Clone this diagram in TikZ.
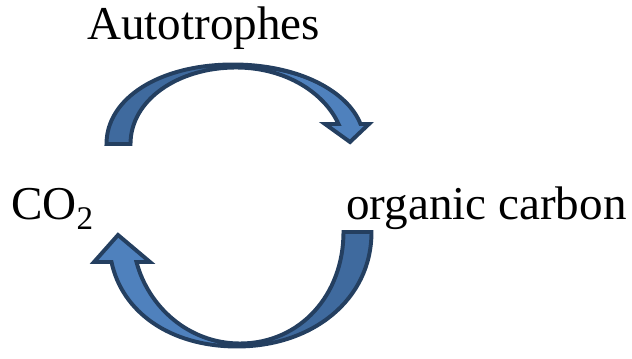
\documentclass[tikz,border=0pt]{standalone}
\usepackage{fontspec}
\setmainfont{Liberation Serif}
\usepackage{tikz}
\definecolor{arrowlight}{HTML}{4F81BD}
\definecolor{arrowdark}{HTML}{3F6A9E}
\definecolor{arrowedge}{HTML}{243F60}

% Outlines of the two curved block arrows (pixel units of the picture)
\newcommand{\toparrowpath}{(106.5,144) .. controls (106.5,98) and (160,64.5) .. (233,64.5)
    .. controls (300,64.5) and (348,92) .. (360.5,124) -- (369,124) -- (350,142) -- (325,124)
    -- (338.5,124) .. controls (325,94) and (287,67.5) .. (236,67.5)
    .. controls (178,67.5) and (130.5,100) .. (130.5,144) -- cycle}
\newcommand{\botarrowpath}{(343.5,232) -- (371.5,232) .. controls (371.5,300) and (312,346.5) .. (237,346.5)
    .. controls (170,346.5) and (122,312) .. (111.5,262) -- (94,262) -- (118,235) -- (150,262)
    -- (136.5,262) .. controls (148,306) and (188,343.5) .. (240,343.5)
    .. controls (300,343.5) and (343.5,295) .. (343.5,232) -- cycle}

\begin{document}
\begin{tikzpicture}[
        x=0.025cm, y=-0.025cm,
        label_style/.style={font=\fontsize{33.5}{40}\selectfont, inner sep=0pt, anchor=base west},
        arrow_edge/.style={draw=arrowedge, line width=2.8pt, line join=miter},
        divide_line/.style={draw=arrowedge, line width=1.1pt}
    ]
    \useasboundingbox (0,0) rectangle (632,359);

    % =========================================================================
    % 1. LABELS
    % =========================================================================
    \node[label_style] (autotrophes) at (87,40) {Autotrophes};
    \node[label_style] (co2) at (11,220) {CO\raisebox{-7pt}{\fontsize{23.5}{24}\selectfont 2}};
    \node[label_style] (orgcarbon) at (346,220) {organic carbon};

    % =========================================================================
    % 2. UPPER ARROW (CO2 -> organic carbon)
    % =========================================================================
    \begin{scope}
        \clip \toparrowpath;
        \fill[arrowlight] \toparrowpath;
        % Darker back part on the tail side
        \fill[arrowdark] (139,113.5) .. controls (165,85) and (200,71) .. (236,67)
            .. controls (280,66) and (325,80) .. (349,105.5) -- (400,105.5) -- (400,0)
            -- (0,0) -- (0,170) -- (139,170) -- cycle;
        \draw[divide_line] (139,113.5) .. controls (165,85) and (200,71) .. (236,67)
            .. controls (280,66) and (325,80) .. (349,105.5);
    \end{scope}
    \draw[arrow_edge] \toparrowpath;

    % =========================================================================
    % 3. LOWER ARROW (organic carbon -> CO2)
    % =========================================================================
    \begin{scope}
        \clip \botarrowpath;
        \fill[arrowlight] \botarrowpath;
        % Darker back part on the tail side
        \fill[arrowdark] (173,319) .. controls (195,338) and (215,344) .. (240,345)
            .. controls (265,345.5) and (285,341) .. (299,335) -- (420,380) -- (420,200)
            -- (173,200) -- cycle;
        \draw[divide_line] (173,319) .. controls (195,338) and (215,344) .. (240,345)
            .. controls (265,345.5) and (285,341) .. (299,335);
    \end{scope}
    \draw[arrow_edge] \botarrowpath;

\end{tikzpicture}
\end{document}
